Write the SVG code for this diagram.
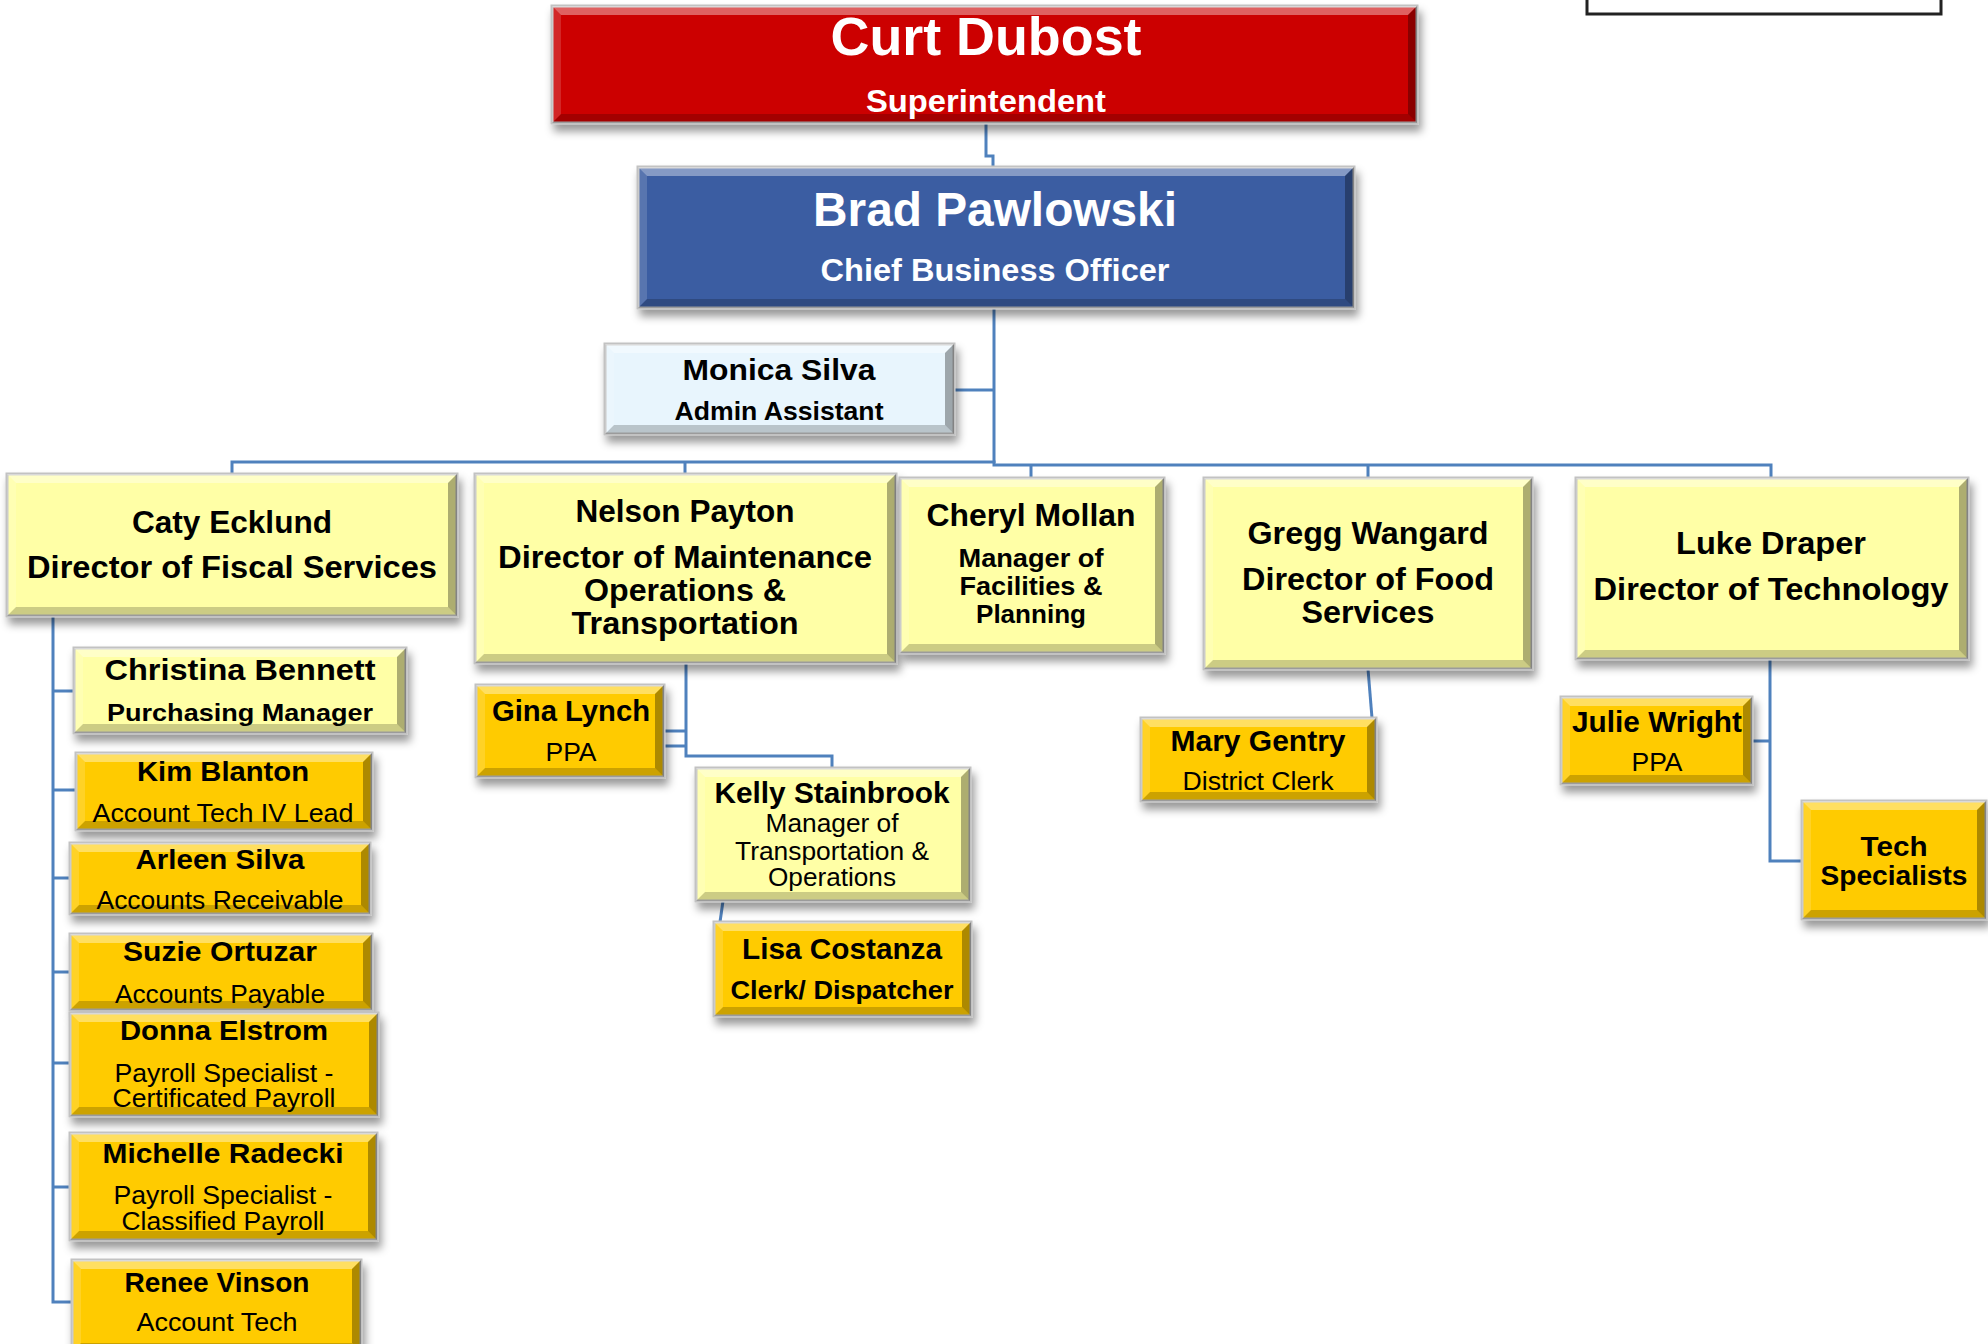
<svg xmlns="http://www.w3.org/2000/svg" width="1988" height="1344" viewBox="0 0 1988 1344">
<defs>
<filter id="sh" x="-10%" y="-10%" width="125%" height="140%">
<feDropShadow dx="3" dy="7" stdDeviation="4" flood-color="#000" flood-opacity="0.4"/>
</filter>
<style>
.box{stroke:#c2c2c2;stroke-width:3;filter:url(#sh)}
.red{fill:#CC0606}
.blue{fill:#3A5DA2}
.lb{fill:#E8F5FD}
.ly{fill:#FFFFA6}
.gd{fill:#FFCB05}
.bt{fill:#fff;fill-opacity:.38}
.bl{fill:#fff;fill-opacity:.15}
.br{fill:#000;fill-opacity:.32}
.bb{fill:#000;fill-opacity:.2}
text{font-family:"Liberation Sans",Arial,sans-serif;text-anchor:middle;fill:#000}
.b{font-weight:bold}
.w{fill:#fff}
.con{fill:none;stroke:#4F81BD;stroke-width:3}
</style>
</defs>
<rect width="1988" height="1344" fill="#fff"/>

<g id="connectors" class="con">
<path d="M986,123 V156 H993 V167"/>
<path d="M994,308 V463"/>
<path d="M954,390 H994"/>
<path d="M232,474 V462 H994 V465 H1771 V478"/>
<path d="M685,462 V474"/>
<path d="M1031,465 V478"/>
<path d="M1368,465 V478"/>
<path d="M53,616 V1302 H72"/>
<path d="M53,691 H74 M53,790 H76 M53,878 H70 M53,972 H70 M53,1063 H70 M53,1187 H70"/>
<path d="M686,663 V756 H832 V768"/>
<path d="M664,731 H686 M664,746 H686"/>
<path d="M723,901 L720,922"/>
<path d="M1368,669 L1372,718"/>
<path d="M1770,659 V861 H1802"/>
<path d="M1752,741 H1770"/>
</g>

<rect id="corner-box" x="1587" y="-10" width="354" height="24" fill="none" stroke="#222" stroke-width="3"/>

<g id="curt">
<rect class="box red" x="552" y="6" width="865" height="117"/>
<path class="bt" d="M552,6 h865 l-9,9 h-847 z"/>
<path class="bb" d="M552,123 h865 l-9,-9 h-847 z"/>
<path class="bl" d="M552,6 v117 l9,-9 v-99 z"/>
<path class="br" d="M1417,6 v117 l-9,-9 v-99 z"/>
<text class="b w" x="986" y="55" font-size="54" textLength="311" lengthAdjust="spacingAndGlyphs">Curt Dubost</text>
<text class="b w" x="986" y="112" font-size="32" textLength="240" lengthAdjust="spacingAndGlyphs">Superintendent</text>
</g>

<g id="brad">
<rect class="box blue" x="638" y="167" width="716" height="141"/>
<path class="bt" d="M638,167 h716 l-9,9 h-698 z"/>
<path class="bb" d="M638,308 h716 l-9,-9 h-698 z"/>
<path class="bl" d="M638,167 v141 l9,-9 v-123 z"/>
<path class="br" d="M1354,167 v141 l-9,-9 v-123 z"/>
<text class="b w" x="995" y="226" font-size="48" textLength="364" lengthAdjust="spacingAndGlyphs">Brad Pawlowski</text>
<text class="b w" x="995" y="281" font-size="32" textLength="349" lengthAdjust="spacingAndGlyphs">Chief Business Officer</text>
</g>

<g id="monica">
<rect class="box lb" x="605" y="344" width="349" height="90"/>
<path class="bt" d="M605,344 h349 l-9,9 h-331 z"/>
<path class="bb" d="M605,434 h349 l-9,-9 h-331 z"/>
<path class="bl" d="M605,344 v90 l9,-9 v-72 z"/>
<path class="br" d="M954,344 v90 l-9,-9 v-72 z"/>
<text class="b" x="779" y="380" font-size="30" textLength="193" lengthAdjust="spacingAndGlyphs">Monica Silva</text>
<text class="b" x="779" y="420" font-size="26" textLength="209" lengthAdjust="spacingAndGlyphs">Admin Assistant</text>
</g>

<g id="caty">
<rect class="box ly" x="7" y="474" width="450" height="142"/>
<path class="bt" d="M7,474 h450 l-9,9 h-432 z"/>
<path class="bb" d="M7,616 h450 l-9,-9 h-432 z"/>
<path class="bl" d="M7,474 v142 l9,-9 v-124 z"/>
<path class="br" d="M457,474 v142 l-9,-9 v-124 z"/>
<text class="b" x="232" y="533" font-size="32" textLength="200" lengthAdjust="spacingAndGlyphs">Caty Ecklund</text>
<text class="b" x="232" y="578" font-size="32" textLength="410" lengthAdjust="spacingAndGlyphs">Director of Fiscal Services</text>
</g>

<g id="nelson">
<rect class="box ly" x="475" y="474" width="421" height="189"/>
<path class="bt" d="M475,474 h421 l-9,9 h-403 z"/>
<path class="bb" d="M475,663 h421 l-9,-9 h-403 z"/>
<path class="bl" d="M475,474 v189 l9,-9 v-171 z"/>
<path class="br" d="M896,474 v189 l-9,-9 v-171 z"/>
<text class="b" x="685" y="522" font-size="32" textLength="219" lengthAdjust="spacingAndGlyphs">Nelson Payton</text>
<text class="b" x="685" y="568" font-size="32" textLength="374" lengthAdjust="spacingAndGlyphs">Director of Maintenance</text>
<text class="b" x="685" y="601" font-size="32" textLength="202" lengthAdjust="spacingAndGlyphs">Operations &amp;</text>
<text class="b" x="685" y="634" font-size="32" textLength="227" lengthAdjust="spacingAndGlyphs">Transportation</text>
</g>

<g id="cheryl">
<rect class="box ly" x="900" y="478" width="264" height="175"/>
<path class="bt" d="M900,478 h264 l-9,9 h-246 z"/>
<path class="bb" d="M900,653 h264 l-9,-9 h-246 z"/>
<path class="bl" d="M900,478 v175 l9,-9 v-157 z"/>
<path class="br" d="M1164,478 v175 l-9,-9 v-157 z"/>
<text class="b" x="1031" y="526" font-size="32" textLength="209" lengthAdjust="spacingAndGlyphs">Cheryl Mollan</text>
<text class="b" x="1031" y="567" font-size="26" textLength="145" lengthAdjust="spacingAndGlyphs">Manager of</text>
<text class="b" x="1031" y="595" font-size="26" textLength="143" lengthAdjust="spacingAndGlyphs">Facilities &amp;</text>
<text class="b" x="1031" y="623" font-size="26" textLength="110" lengthAdjust="spacingAndGlyphs">Planning</text>
</g>

<g id="gregg">
<rect class="box ly" x="1204" y="478" width="328" height="191"/>
<path class="bt" d="M1204,478 h328 l-9,9 h-310 z"/>
<path class="bb" d="M1204,669 h328 l-9,-9 h-310 z"/>
<path class="bl" d="M1204,478 v191 l9,-9 v-173 z"/>
<path class="br" d="M1532,478 v191 l-9,-9 v-173 z"/>
<text class="b" x="1368" y="544" font-size="32" textLength="241" lengthAdjust="spacingAndGlyphs">Gregg Wangard</text>
<text class="b" x="1368" y="590" font-size="32" textLength="252" lengthAdjust="spacingAndGlyphs">Director of Food</text>
<text class="b" x="1368" y="623" font-size="32" textLength="133" lengthAdjust="spacingAndGlyphs">Services</text>
</g>

<g id="luke">
<rect class="box ly" x="1576" y="478" width="392" height="181"/>
<path class="bt" d="M1576,478 h392 l-9,9 h-374 z"/>
<path class="bb" d="M1576,659 h392 l-9,-9 h-374 z"/>
<path class="bl" d="M1576,478 v181 l9,-9 v-163 z"/>
<path class="br" d="M1968,478 v181 l-9,-9 v-163 z"/>
<text class="b" x="1771" y="554" font-size="32" textLength="190" lengthAdjust="spacingAndGlyphs">Luke Draper</text>
<text class="b" x="1771" y="600" font-size="32" textLength="355" lengthAdjust="spacingAndGlyphs">Director of Technology</text>
</g>

<g id="christina">
<rect class="box ly" x="74" y="648" width="332" height="85"/>
<path class="bt" d="M74,648 h332 l-9,9 h-314 z"/>
<path class="bb" d="M74,733 h332 l-9,-9 h-314 z"/>
<path class="bl" d="M74,648 v85 l9,-9 v-67 z"/>
<path class="br" d="M406,648 v85 l-9,-9 v-67 z"/>
<text class="b" x="240" y="680" font-size="30" textLength="271" lengthAdjust="spacingAndGlyphs">Christina Bennett</text>
<text class="b" x="240" y="721" font-size="24" textLength="266" lengthAdjust="spacingAndGlyphs">Purchasing Manager</text>
</g>

<g id="kim">
<rect class="box gd" x="76" y="753" width="296" height="77"/>
<path class="bt" d="M76,753 h296 l-9,9 h-278 z"/>
<path class="bb" d="M76,830 h296 l-9,-9 h-278 z"/>
<path class="bl" d="M76,753 v77 l9,-9 v-59 z"/>
<path class="br" d="M372,753 v77 l-9,-9 v-59 z"/>
<text class="b" x="223" y="781" font-size="28" textLength="172" lengthAdjust="spacingAndGlyphs">Kim Blanton</text>
<text x="223" y="822" font-size="25" textLength="261" lengthAdjust="spacingAndGlyphs">Account Tech IV Lead</text>
</g>

<g id="arleen">
<rect class="box gd" x="70" y="843" width="300" height="71"/>
<path class="bt" d="M70,843 h300 l-9,9 h-282 z"/>
<path class="bb" d="M70,914 h300 l-9,-9 h-282 z"/>
<path class="bl" d="M70,843 v71 l9,-9 v-53 z"/>
<path class="br" d="M370,843 v71 l-9,-9 v-53 z"/>
<text class="b" x="220" y="869" font-size="28" textLength="169" lengthAdjust="spacingAndGlyphs">Arleen Silva</text>
<text x="220" y="909" font-size="25" textLength="247" lengthAdjust="spacingAndGlyphs">Accounts Receivable</text>
</g>

<g id="suzie">
<rect class="box gd" x="70" y="934" width="302" height="76"/>
<path class="bt" d="M70,934 h302 l-9,9 h-284 z"/>
<path class="bb" d="M70,1010 h302 l-9,-9 h-284 z"/>
<path class="bl" d="M70,934 v76 l9,-9 v-58 z"/>
<path class="br" d="M372,934 v76 l-9,-9 v-58 z"/>
<text class="b" x="220" y="961" font-size="28" textLength="194" lengthAdjust="spacingAndGlyphs">Suzie Ortuzar</text>
<text x="220" y="1003" font-size="25" textLength="210" lengthAdjust="spacingAndGlyphs">Accounts Payable</text>
</g>

<g id="donna">
<rect class="box gd" x="70" y="1013" width="308" height="103"/>
<path class="bt" d="M70,1013 h308 l-9,9 h-290 z"/>
<path class="bb" d="M70,1116 h308 l-9,-9 h-290 z"/>
<path class="bl" d="M70,1013 v103 l9,-9 v-85 z"/>
<path class="br" d="M378,1013 v103 l-9,-9 v-85 z"/>
<text class="b" x="224" y="1040" font-size="28" textLength="208" lengthAdjust="spacingAndGlyphs">Donna Elstrom</text>
<text x="224" y="1082" font-size="25" textLength="219" lengthAdjust="spacingAndGlyphs">Payroll Specialist -</text>
<text x="224" y="1107" font-size="25" textLength="223" lengthAdjust="spacingAndGlyphs">Certificated Payroll</text>
</g>

<g id="michelle">
<rect class="box gd" x="70" y="1133" width="307" height="107"/>
<path class="bt" d="M70,1133 h307 l-9,9 h-289 z"/>
<path class="bb" d="M70,1240 h307 l-9,-9 h-289 z"/>
<path class="bl" d="M70,1133 v107 l9,-9 v-89 z"/>
<path class="br" d="M377,1133 v107 l-9,-9 v-89 z"/>
<text class="b" x="223" y="1163" font-size="28" textLength="241" lengthAdjust="spacingAndGlyphs">Michelle Radecki</text>
<text x="223" y="1204" font-size="25" textLength="219" lengthAdjust="spacingAndGlyphs">Payroll Specialist -</text>
<text x="223" y="1230" font-size="25" textLength="203" lengthAdjust="spacingAndGlyphs">Classified Payroll</text>
</g>

<g id="renee">
<rect class="box gd" x="72" y="1260" width="289" height="92"/>
<path class="bt" d="M72,1260 h289 l-9,9 h-271 z"/>
<path class="bb" d="M72,1352 h289 l-9,-9 h-271 z"/>
<path class="bl" d="M72,1260 v92 l9,-9 v-74 z"/>
<path class="br" d="M361,1260 v92 l-9,-9 v-74 z"/>
<text class="b" x="217" y="1292" font-size="28" textLength="185" lengthAdjust="spacingAndGlyphs">Renee Vinson</text>
<text x="217" y="1331" font-size="25" textLength="161" lengthAdjust="spacingAndGlyphs">Account Tech</text>
</g>

<g id="gina">
<rect class="box gd" x="476" y="685" width="188" height="92"/>
<path class="bt" d="M476,685 h188 l-9,9 h-170 z"/>
<path class="bb" d="M476,777 h188 l-9,-9 h-170 z"/>
<path class="bl" d="M476,685 v92 l9,-9 v-74 z"/>
<path class="br" d="M664,685 v92 l-9,-9 v-74 z"/>
<text class="b" x="571" y="721" font-size="29" textLength="158" lengthAdjust="spacingAndGlyphs">Gina Lynch</text>
<text x="571" y="761" font-size="25" textLength="51" lengthAdjust="spacingAndGlyphs">PPA</text>
</g>

<g id="kelly">
<rect class="box ly" x="696" y="768" width="274" height="133"/>
<path class="bt" d="M696,768 h274 l-9,9 h-256 z"/>
<path class="bb" d="M696,901 h274 l-9,-9 h-256 z"/>
<path class="bl" d="M696,768 v133 l9,-9 v-115 z"/>
<path class="br" d="M970,768 v133 l-9,-9 v-115 z"/>
<text class="b" x="832" y="803" font-size="29" textLength="235" lengthAdjust="spacingAndGlyphs">Kelly Stainbrook</text>
<text x="832" y="832" font-size="25" textLength="133" lengthAdjust="spacingAndGlyphs">Manager of</text>
<text x="832" y="860" font-size="25" textLength="194" lengthAdjust="spacingAndGlyphs">Transportation &amp;</text>
<text x="832" y="886" font-size="25" textLength="128" lengthAdjust="spacingAndGlyphs">Operations</text>
</g>

<g id="lisa">
<rect class="box gd" x="714" y="922" width="257" height="94"/>
<path class="bt" d="M714,922 h257 l-9,9 h-239 z"/>
<path class="bb" d="M714,1016 h257 l-9,-9 h-239 z"/>
<path class="bl" d="M714,922 v94 l9,-9 v-76 z"/>
<path class="br" d="M971,922 v94 l-9,-9 v-76 z"/>
<text class="b" x="842" y="959" font-size="29" textLength="200" lengthAdjust="spacingAndGlyphs">Lisa Costanza</text>
<text class="b" x="842" y="999" font-size="26" textLength="223" lengthAdjust="spacingAndGlyphs">Clerk/ Dispatcher</text>
</g>

<g id="mary">
<rect class="box gd" x="1141" y="718" width="235" height="83"/>
<path class="bt" d="M1141,718 h235 l-9,9 h-217 z"/>
<path class="bb" d="M1141,801 h235 l-9,-9 h-217 z"/>
<path class="bl" d="M1141,718 v83 l9,-9 v-65 z"/>
<path class="br" d="M1376,718 v83 l-9,-9 v-65 z"/>
<text class="b" x="1258" y="751" font-size="29" textLength="175" lengthAdjust="spacingAndGlyphs">Mary Gentry</text>
<text x="1258" y="790" font-size="25" textLength="151" lengthAdjust="spacingAndGlyphs">District Clerk</text>
</g>

<g id="julie">
<rect class="box gd" x="1561" y="697" width="191" height="87"/>
<path class="bt" d="M1561,697 h191 l-9,9 h-173 z"/>
<path class="bb" d="M1561,784 h191 l-9,-9 h-173 z"/>
<path class="bl" d="M1561,697 v87 l9,-9 v-69 z"/>
<path class="br" d="M1752,697 v87 l-9,-9 v-69 z"/>
<text class="b" x="1657" y="732" font-size="29" textLength="170" lengthAdjust="spacingAndGlyphs">Julie Wright</text>
<text x="1657" y="771" font-size="25" textLength="51" lengthAdjust="spacingAndGlyphs">PPA</text>
</g>

<g id="tech">
<rect class="box gd" x="1802" y="801" width="184" height="118"/>
<path class="bt" d="M1802,801 h184 l-9,9 h-166 z"/>
<path class="bb" d="M1802,919 h184 l-9,-9 h-166 z"/>
<path class="bl" d="M1802,801 v118 l9,-9 v-100 z"/>
<path class="br" d="M1986,801 v118 l-9,-9 v-100 z"/>
<text class="b" x="1894" y="856" font-size="28" textLength="67" lengthAdjust="spacingAndGlyphs">Tech</text>
<text class="b" x="1894" y="885" font-size="28" textLength="147" lengthAdjust="spacingAndGlyphs">Specialists</text>
</g>
</svg>
